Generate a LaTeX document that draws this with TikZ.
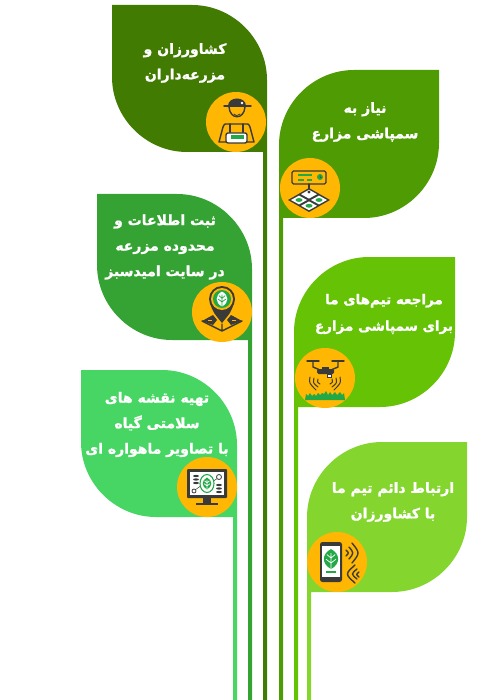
\documentclass[tikz,border=0pt]{standalone}
\usepackage{fontspec}
\newfontfamily\arabicfont[Script=Arabic, BoldFeatures={FakeBold=1.3}]{DejaVu Sans}
\TeXXeTstate=1
\definecolor{leafa}{HTML}{417B02}
\definecolor{leafb}{HTML}{4F9B04}
\definecolor{leafc}{HTML}{35A333}
\definecolor{leafd}{HTML}{65C204}
\definecolor{leafe}{HTML}{47D564}
\definecolor{leaff}{HTML}{84D62E}
\definecolor{badgeyellow}{HTML}{FFB703}
\definecolor{icondark}{HTML}{3A3A3A}
\definecolor{icongreen}{HTML}{22A845}

\tikzset{
    badge/.style={circle, fill=badgeyellow, minimum size=60pt, inner sep=0pt},
    leaftext/.style={text=white, align=center, inner sep=0pt,
        font=\arabicfont\bfseries\fontsize{14}{25.5}\selectfont},
    iconline/.style={draw=icondark, line width=1.4pt, line cap=round, line join=round},
    iconfill/.style={fill=icondark},
    greenfill/.style={fill=icongreen}
}

\newcommand{\leafleft}[5]{
    \fill[#5] (#1,#3) -- ({#2-75},#3)
        .. controls ({#2-34},#3) and (#2,{#3+34}) .. (#2,{#3+75})
        -- (#2,700) -- ({#2-4},700) -- ({#2-4},#4) -- ({#1+75},#4)
        .. controls ({#1+34},#4) and (#1,{#4-34}) .. (#1,{#4-75}) -- cycle;
}
\newcommand{\leafright}[5]{
    \fill[#5] (#2,#3) -- ({#1+75},#3)
        .. controls ({#1+34},#3) and (#1,{#3+34}) .. (#1,{#3+75})
        -- (#1,700) -- ({#1+4},700) -- ({#1+4},#4) -- ({#2-75},#4)
        .. controls ({#2-34},#4) and (#2,{#4-34}) .. (#2,{#4-75}) -- cycle;
}
\newcommand{\leafmark}[5]{
    \begin{scope}[shift={(#1,#2)}, scale=#3]
        \fill[#4] (0,-1) .. controls (0.95,-0.5) and (0.95,0.5) .. (0,1)
            .. controls (-0.95,0.5) and (-0.95,-0.5) .. (0,-1) -- cycle;
        \draw[#5, line width=0.7pt] (0,-0.6) -- (0,1)
            (0,-0.1) -- (0.42,-0.45) (0,-0.1) -- (-0.42,-0.45)
            (0,0.4) -- (0.5,0.02) (0,0.4) -- (-0.5,0.02);
    \end{scope}
}

\begin{document}
\begin{tikzpicture}[x=1pt, y=-1pt]

    \useasboundingbox (0,0) rectangle (500,700);

    \leafleft{112}{267}{5}{152}{leafa}
    \leafright{279}{439}{70}{218}{leafb}
    \leafleft{97}{252}{194}{340}{leafc}
    \leafright{294}{455}{257}{407}{leafd}
    \leafleft{81}{237}{370}{517}{leafe}
    \leafright{307}{467}{442}{592}{leaff}

    \node[leaftext] (farmers) at (185,63)
        {\beginR کشاورزان و\endR\\\beginR مزرعه‌داران\endR};

    \node[leaftext] (need) at (365,122)
        {\beginR نیاز به\endR\\\beginR سمپاشی مزارع\endR};

    \node[leaftext] (register) at (165,247)
        {\beginR ثبت اطلاعات و\endR\\\beginR محدوده مزرعه\endR\\\beginR در سایت امیدسبز\endR};

    \node[leaftext, font=\arabicfont\bfseries\fontsize{13.5}{26.5}\selectfont] (teams) at (384,314)
        {\beginR مراجعه تیم‌های ما\endR\\\beginR برای سمپاشی مزارع\endR};

    \node[leaftext] (maps) at (157,424.5)
        {\beginR تهیه نقشه های\endR\\\beginR سلامتی گیاه\endR\\\beginR با تصاویر ماهواره ای\endR};

    \node[leaftext] (contact) at (393,502)
        {\beginR ارتباط دائم تیم ما\endR\\\beginR با کشاورزان\endR};

    \node[badge] (badgefarmer) at (236,122) {};
    \node[badge] (badgefield) at (310,188) {};
    \node[badge] (badgepin) at (222,312) {};
    \node[badge] (badgedrone) at (325,378) {};
    \node[badge] (badgescreen) at (207,487) {};
    \node[badge] (badgephone) at (337,562) {};

    \begin{scope}[shift={(236,122)}]
        \fill[iconfill] (-8,-16) .. controls (-8,-26) and (10,-26) .. (10,-16) -- cycle;
        \draw[iconline] (-12,-16) -- (15,-16);
        \fill[white] (6,-19) circle (1.3);
        \draw[iconline] (-7,-15) .. controls (-6,-2) and (8,-2) .. (9,-15);
        \draw[iconline, line width=0.8pt] (-2,-8) .. controls (0,-6) .. (4,-8);
        \draw[iconline] (-17,20) -- (-13,5) .. controls (-12,2) .. (-8,2) -- (9,2)
            .. controls (13,2) .. (14,5) -- (18,20) -- cycle;
        \draw[iconline] (-6,2) -- (-6,11) (7,2) -- (7,11);
        \draw[iconline, fill=white, rounded corners=2pt] (-10,11) rectangle (11,21);
        \fill[greenfill] (-5,13) rectangle (8,17);
    \end{scope}

    \begin{scope}[shift={(310,188)}]
        \draw[iconline, rounded corners=1.5pt] (-18,-17) rectangle (16,-4);
        \draw[icongreen, line width=1.1pt] (-12,-13) -- (2,-13) (-12,-8) -- (-6,-8) (-3,-8) -- (2,-8);
        \fill[greenfill] (10,-11) circle (3);
        \draw[icondark, line width=0.5pt] (10,-12.5) -- (10,-11) -- (11.5,-10);
        \draw[iconline] (-1,-4) -- (-1,3);
        \fill[iconfill] (-1,0) -- (20,12) -- (-1,24) -- (-22,12) -- cycle;
        \fill[white] (-1,1.8) -- (7,6.2) -- (-1,10.6) -- (-9,6.2) -- cycle;
        \fill[white] (-11,7.6) -- (-3,12) -- (-11,16.4) -- (-19,12) -- cycle;
        \fill[white] (9,7.6) -- (17,12) -- (9,16.4) -- (1,12) -- cycle;
        \fill[white] (-1,13.4) -- (7,17.8) -- (-1,22.2) -- (-9,17.8) -- cycle;
        \fill[iconfill] (-1,4) circle (1.6);
        \fill[greenfill] (-11,12) ellipse (3.5 and 1.9);
        \fill[greenfill] (9,12) ellipse (3.5 and 1.9);
        \fill[greenfill] (-1,17.8) ellipse (3.5 and 1.9);
    \end{scope}

    \begin{scope}[shift={(222,312)}]
        \fill[iconfill] (-12,-9) .. controls (-9,0) .. (0,11) .. controls (9,0) .. (12,-9) -- cycle;
        \fill[iconfill] (0,-13) circle (13);
        \fill[badgeyellow] (0,-13) circle (11);
        \fill[greenfill] (0,-13) circle (9);
        \leafmark{0}{-13}{7.5}{white}{icongreen}
        \fill[iconfill] (-20,9) -- (-9,3) -- (-5,8) -- (-9,13) -- cycle;
        \fill[iconfill] (20,9) -- (9,3) -- (5,8) -- (9,13) -- cycle;
        \draw[iconline] (-20,9) -- (0,19) -- (20,9) (0,12) -- (0,19);
        \draw[badgeyellow, line width=0.6pt] (-14,8.5) -- (-10,8.5) (14,8.5) -- (10,8.5);
    \end{scope}

    \begin{scope}[shift={(325,378)}]
        \draw[iconline] (-18,-17) -- (-6,-17) (7,-17) -- (19,-17);
        \draw[iconline] (-12,-17) -- (-12,-11) -- (-5,-8) (13,-17) -- (13,-11) -- (6,-8);
        \fill[iconfill, rounded corners=1.5pt] (-8,-9) rectangle (9,-4);
        \fill[iconfill] (-3,-11) rectangle (4,-8);
        \draw[draw=icondark, fill=white, line width=0.6pt] (2,-4) rectangle (6,-1);
        \draw[iconline, line width=1pt] (-15,-1) .. controls (-16,5) .. (-9,12)
            (-11,0) .. controls (-12,5) .. (-7,9) (-7,1) .. controls (-8,4) .. (-5,6);
        \draw[iconline, line width=1pt] (15,-1) .. controls (16,5) .. (9,12)
            (11,0) .. controls (12,5) .. (7,9) (7,1) .. controls (8,4) .. (5,6);
        \fill[greenfill] (-20,22) -- (-19,16) -- (-17,18) -- (-15,15) -- (-13,18) -- (-11,16)
            -- (-9,18) -- (-7,15) -- (-5,17) -- (-3,15) -- (-1,16) -- (1,13) -- (3,17)
            -- (5,14) -- (7,17) -- (10,14) -- (12,17) -- (15,14) -- (17,17) -- (19,15) -- (20,22) -- cycle;
    \end{scope}

    \begin{scope}[shift={(207,487)}]
        \fill[iconfill, rounded corners=1pt] (-20,-18) rectangle (20,11);
        \fill[white] (-17,-15) rectangle (17,8);
        \fill[iconfill] (-4,11) rectangle (4,16);
        \fill[iconfill] (-11,15.5) rectangle (11,18);
        \draw[icondark, line width=0.5pt] (-12,3) -- (-5,-2) (11,-9) -- (5,-5);
        \draw[icongreen, line width=1.1pt, fill=white] (0,-3.5) ellipse (7 and 9);
        \leafmark{0}{-3.5}{6}{icongreen}{white}
        \fill[iconfill] (-11,-11) ellipse (3 and 1.1) (-11,-7.5) ellipse (3 and 1.1) (-11,-4) ellipse (3 and 1.1);
        \fill[iconfill] (12,-2) ellipse (3 and 1.1) (12,1.5) ellipse (3 and 1.1) (12,5) ellipse (3 and 1.1);
        \draw[icondark, line width=0.8pt, fill=white] (12,-10) circle (2.5) (-13,4) circle (2);
    \end{scope}

    \begin{scope}[shift={(337,562)}]
        \fill[iconfill, rounded corners=2.5pt] (-17,-20) rectangle (5,20);
        \fill[white] (-15,-16) rectangle (3,15);
        \leafmark{-6}{-3}{10}{icongreen}{white}
        \fill[greenfill] (-11,9) rectangle (-1,11);
        \draw[iconline] (9,-12) .. controls (12,-9) .. (9,-6)
            (12,-15) .. controls (17,-9) .. (12,-3)
            (15,-19) .. controls (23,-9) .. (15,1);
        \draw[iconline] (22,10) .. controls (19,12.5) .. (22,15)
            (20,7) .. controls (14,12) .. (20,17)
            (18,3) .. controls (8,12) .. (18,21);
    \end{scope}

\end{tikzpicture}
\end{document}
